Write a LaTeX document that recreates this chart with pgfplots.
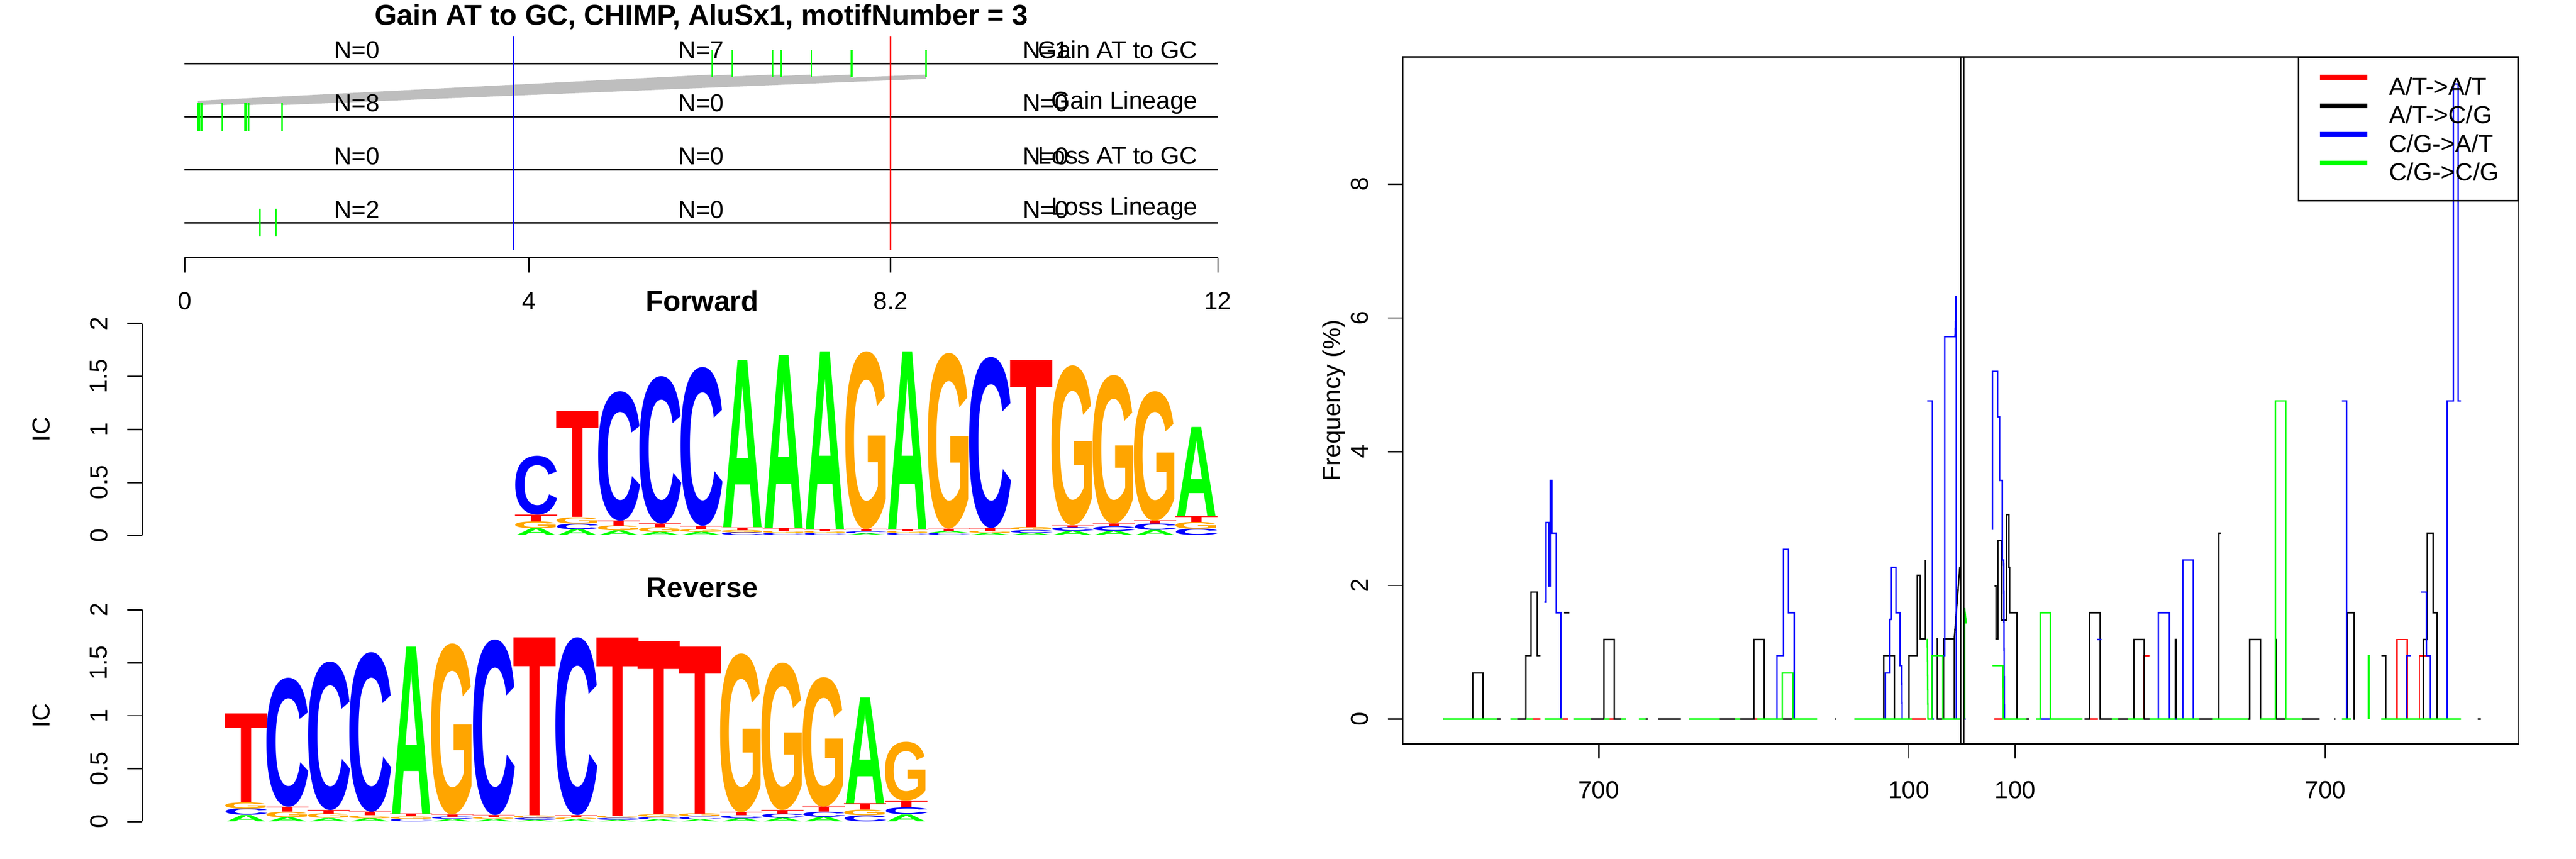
\documentclass[border=0pt]{standalone}
\usepackage{fontspec}
\setmainfont{Liberation Sans}
\newfontfamily\logofont{Liberation Sans}
\usepackage{graphicx}
\usepackage{pgfplots}
\usepackage{pgfplotstable}
\pgfplotsset{compat=1.18}

\definecolor{rred}{rgb}{1,0,0}
\definecolor{rgreen}{rgb}{0,1,0}
\definecolor{rblue}{rgb}{0,0,1}
\definecolor{rorange}{rgb}{1,0.647,0}
\definecolor{rgray}{rgb}{0.745,0.745,0.745}
\colorlet{logoA}{rgreen}
\colorlet{logoC}{rblue}
\colorlet{logoG}{rorange}
\colorlet{logoT}{rred}

\newcommand\fs{\fontsize{10.3pt}{12pt}\selectfont}
\newcommand\ftitle{\fontsize{12pt}{14pt}\selectfont\bfseries}

% one logo column is 17.3pt wide, one bit is 44.4pt high
\newdimen\logounit \logounit=44.4pt
\newdimen\logocol \logocol=17.3pt
\def\logofacA{1.0}\def\logofacC{1.12}\def\logofacG{1.13}\def\logofacT{1.06}
\newcommand\logoglyph[2]{{\color{logo#1}\resizebox*{\csname logofac#1\endcsname\logocol}{#2\logounit}{\logofont\bfseries #1}}}
\def\logosplit#1/#2\relax{\logoglyph{#1}{#2}}

% forward motif: column, bottom of the letter, letter/height
\pgfplotstableread{
x y m
1 0 A/0.065
1 0.065 G/0.065
1 0.13 T/0.065
1 0.195 C/0.555
2 0 A/0.057
2 0.057 C/0.053
2 0.11 G/0.06
2 0.17 T/1.0
3 0 A/0.043
3 0.043 G/0.047
3 0.09 T/0.048
3 0.138 C/1.222
4 0 A/0.031
4 0.031 G/0.043
4 0.074 T/0.035
4 0.109 C/1.391
5 0 A/0.031
5 0.031 G/0.026
5 0.057 T/0.031
5 0.088 C/1.498
6 0 C/0.026
6 0.026 G/0.022
6 0.048 T/0.026
6 0.074 A/1.576
7 0 C/0.02
7 0.02 G/0.02
7 0.04 T/0.026
7 0.066 A/1.634
8 0 C/0.02
8 0.02 G/0.018
8 0.038 T/0.019
8 0.057 A/1.678
9 0 A/0.015
9 0.015 C/0.02
9 0.035 T/0.022
9 0.057 G/1.678
10 0 C/0.02
10 0.02 G/0.018
10 0.038 T/0.019
10 0.057 A/1.678
11 0 C/0.02
11 0.02 A/0.02
11 0.04 T/0.02
11 0.06 G/1.657
12 0 A/0.02
12 0.02 G/0.02
12 0.04 T/0.026
12 0.066 C/1.614
13 0 A/0.022
13 0.022 C/0.026
13 0.048 G/0.026
13 0.074 T/1.576
14 0 A/0.04
14 0.04 C/0.034
14 0.074 T/0.017
14 0.091 G/1.509
15 0 A/0.04
15 0.04 C/0.043
15 0.083 T/0.026
15 0.109 G/1.401
16 0 A/0.048
16 0.048 C/0.06
16 0.108 T/0.03
16 0.138 G/1.222
17 0 C/0.06
17 0.06 G/0.065
17 0.125 T/0.056
17 0.181 A/0.839
}\fwdlogo

% reverse motif
\pgfplotstableread{
x y m
1 0 A/0.06
1 0.06 C/0.062
1 0.122 G/0.059
1 0.181 T/0.839
2 0 A/0.04
2 0.04 G/0.052
2 0.092 T/0.046
2 0.138 C/1.217
3 0 A/0.031
3 0.031 G/0.043
3 0.074 T/0.035
3 0.109 C/1.401
4 0 A/0.031
4 0.031 G/0.026
4 0.057 T/0.034
4 0.091 C/1.506
5 0 C/0.026
5 0.026 G/0.022
5 0.048 T/0.026
5 0.074 A/1.576
6 0 A/0.022
6 0.022 C/0.022
6 0.044 T/0.022
6 0.066 G/1.614
7 0 A/0.022
7 0.022 G/0.017
7 0.039 T/0.021
7 0.06 C/1.657
8 0 A/0.015
8 0.015 C/0.02
8 0.035 G/0.022
8 0.057 T/1.678
9 0 A/0.02
9 0.02 G/0.018
9 0.038 T/0.019
9 0.057 C/1.678
10 0 A/0.015
10 0.015 C/0.018
10 0.033 G/0.02
10 0.053 T/1.682
11 0 A/0.02
11 0.02 C/0.022
11 0.042 G/0.024
11 0.066 T/1.634
12 0 A/0.02
12 0.02 C/0.026
12 0.046 G/0.028
12 0.074 T/1.576
13 0 A/0.031
13 0.031 C/0.026
13 0.057 T/0.031
13 0.088 G/1.498
14 0 A/0.034
14 0.034 C/0.04
14 0.074 T/0.035
14 0.109 G/1.391
15 0 A/0.043
15 0.043 C/0.047
15 0.09 T/0.048
15 0.138 G/1.222
16 0 C/0.057
16 0.057 G/0.053
16 0.11 T/0.06
16 0.17 A/1.0
17 0 A/0.065
17 0.065 C/0.065
17 0.13 T/0.065
17 0.195 G/0.555
}\revlogo

\pgfplotsset{
  logo/.style={
    scale only axis, width=451pt, height=88.8pt,
    ymin=0, ymax=2, clip=false,
    axis x line=none, axis y line*=left,
    axis line style={-, line width=0.6pt},
    ytick={0,0.5,1,1.5,2}, yticklabels={0,0.5,1,1.5,2},
    tick align=outside, major tick length=6.2pt,
    tick style={line width=0.6pt, black},
    yticklabel style={font=\fs, xshift=-12pt, rotate=90, anchor=center},
  },
  letters/.style={
    scatter, only marks, mark=*, mark size=0pt,
    mark options={draw=none, fill=none},
    point meta=explicit symbolic,
    scatter/@pre marker code/.code={\pgftext[bottom]{\expandafter\logosplit\pgfplotspointmeta\relax}},
    scatter/@post marker code/.code={},
  },
}

\begin{document}
\begin{tikzpicture}

% ---- top left: positions of the substitutions ----
\begin{axis}[
  at={(77.4pt,252pt)}, anchor=south west,
  scale only axis, width=433.2pt, height=92.6pt,
  xmin=0, xmax=12, ymin=0.344, ymax=4.503,
  axis x line*=bottom, axis y line=none,
  axis line style={-, line width=0.6pt},
  xtick={0,4,8.2,12}, xticklabels={0,4,8.2,12},
  tick align=outside, major tick length=6.2pt,
  tick style={line width=0.6pt, black},
  xticklabel style={font=\fs, anchor=center, yshift=-12pt},
  clip=false, unbounded coords=jump,
]
\addplot[black, line width=0.6pt] coordinates {
  (0,4) (12,4) (nan,nan) (0,3) (12,3) (nan,nan)
  (0,2) (12,2) (nan,nan) (0,1) (12,1)};
\addplot[rgray, line width=1.8pt] coordinates {
  (6.13,3.75) (0.155,3.257) (nan,nan)
  (6.36,3.75) (0.197,3.257) (nan,nan)
  (6.83,3.75) (0.44,3.257) (nan,nan)
  (6.93,3.75) (0.70,3.257) (nan,nan)
  (7.28,3.75) (0.745,3.257) (nan,nan)
  (7.74,3.75) (1.13,3.257) (nan,nan)
  (8.61,3.75) (1.13,3.257)};
\addplot[rgreen, line width=0.6pt] coordinates {
  (6.13,3.75) (6.13,4.25) (nan,nan) (6.36,3.75) (6.36,4.25) (nan,nan)
  (6.83,3.75) (6.83,4.25) (nan,nan) (6.93,3.75) (6.93,4.25) (nan,nan)
  (7.28,3.75) (7.28,4.25) (nan,nan) (7.74,3.75) (7.74,4.25) (nan,nan)
  (7.75,3.75) (7.75,4.25) (nan,nan) (8.61,3.75) (8.61,4.25) (nan,nan)
  (0.155,2.73) (0.155,3.257) (nan,nan) (0.175,2.73) (0.175,3.257) (nan,nan)
  (0.197,2.73) (0.197,3.257) (nan,nan) (0.44,2.73) (0.44,3.257) (nan,nan)
  (0.70,2.73) (0.70,3.257) (nan,nan) (0.72,2.73) (0.72,3.257) (nan,nan)
  (0.745,2.73) (0.745,3.257) (nan,nan) (1.13,2.73) (1.13,3.257) (nan,nan)
  (0.875,0.74) (0.875,1.27) (nan,nan) (1.06,0.74) (1.06,1.27)};
\addplot[rblue, line width=0.6pt] coordinates {(3.82,0.488) (3.82,4.503)};
\addplot[rred, line width=0.6pt] coordinates {(8.2,0.488) (8.2,4.503)};
\node[font=\ftitle, anchor=base] at (axis cs:6,4.72) {Gain AT to GC, CHIMP, AluSx1, motifNumber = 3};
\node[font=\fs] at (axis cs:2,4.25) {N=0};
\node[font=\fs] at (axis cs:6,4.25) {N=7};
\node[font=\fs] at (axis cs:10,4.25) {N=1};
\node[font=\fs, anchor=east] at (axis cs:11.86,4.26) {Gain AT to GC};
\node[font=\fs] at (axis cs:2,3.25) {N=8};
\node[font=\fs] at (axis cs:6,3.25) {N=0};
\node[font=\fs] at (axis cs:10,3.25) {N=0};
\node[font=\fs, anchor=east] at (axis cs:11.86,3.26) {Gain Lineage};
\node[font=\fs] at (axis cs:2,2.25) {N=0};
\node[font=\fs] at (axis cs:6,2.25) {N=0};
\node[font=\fs] at (axis cs:10,2.25) {N=0};
\node[font=\fs, anchor=east] at (axis cs:11.86,2.26) {Loss AT to GC};
\node[font=\fs] at (axis cs:2,1.25) {N=2};
\node[font=\fs] at (axis cs:6,1.25) {N=0};
\node[font=\fs] at (axis cs:10,1.25) {N=0};
\node[font=\fs, anchor=east] at (axis cs:11.86,1.26) {Loss Lineage};
\end{axis}

% ---- forward logo ----
\begin{axis}[logo, at={(59.6pt,135.6pt)}, anchor=south west,
  xmin=-8.548, xmax=17.52]
\addplot[letters] table[x=x, y=y, meta=m] {\fwdlogo};
\node[font=\ftitle, anchor=base] at (axis description cs:0.5206,1.0586) {Forward};
\node[font=\fs, rotate=90] at (axis description cs:-0.094,0.5) {IC};
\end{axis}

% ---- reverse logo ----
\begin{axis}[logo, at={(59.6pt,15.6pt)}, anchor=south west,
  xmin=-1.52, xmax=24.55]
\addplot[letters] table[x=x, y=y, meta=m] {\revlogo};
\node[font=\ftitle, anchor=base] at (axis description cs:0.5206,1.0586) {Reverse};
\node[font=\fs, rotate=90] at (axis description cs:-0.094,0.5) {IC};
\end{axis}

% ---- right: substitution frequencies around the motif ----
\begin{axis}[
  at={(588pt,48.2pt)}, anchor=south west,
  scale only axis, width=468pt, height=288pt,
  xmin=-1082.8, xmax=1077.3, ymin=-0.371, ymax=9.907,
  axis line style={line width=0.6pt},
  xtick={-703,-103,103,703}, xticklabels={700,100,100,700},
  ytick={0,2,4,6,8}, yticklabels={0,2,4,6,8},
  xtick pos=left, ytick pos=left,
  tick align=outside, major tick length=6.2pt,
  tick style={line width=0.6pt, black},
  xticklabel style={font=\fs, anchor=center, yshift=-13.2pt},
  yticklabel style={font=\fs, xshift=-11.8pt, rotate=90, anchor=center},
  ylabel={Frequency (\%)},
  every axis y label/.style={at={(axis description cs:-0.0615,0.5)}, anchor=center, rotate=90, font=\fs},
  unbounded coords=jump, clip=false,
  legend style={at={(1,1)}, anchor=north east, draw=black, line width=0.6pt,
    fill=none, font=\fs, inner xsep=8pt, inner ysep=6pt,
    row sep=0pt, column sep=8.2pt,
    nodes={inner sep=0pt, text height=9.7pt, text depth=2.3pt}},
  legend cell align=left,
  legend image code/.code={\path (0pt,0pt); \draw[line width=2pt] (0pt,3.7pt) -- (19.8pt,3.7pt);},
]
\addplot[rred, line width=0.6pt] coordinates {
  (-830,0) (-815.5,0) (nan,nan) (-773,0) (-762,0) (nan,nan)
  (-682,0) (-674,0) (nan,nan) (-406,0) (-396.4,0) (nan,nan)
  (-97,0) (-70.5,0) (nan,nan) (62,0) (80,0) (nan,nan)
  (247,0) (263,0) (nan,nan) (352.3,0) (352.3,0.95) (363,0.95) (nan,nan)
  (841.3,0) (841.3,1.19) (861.9,1.19) (861.9,0) (nan,nan)
  (884.9,0) (884.9,0.95) (906.4,0.95) (906.4,0)};
\addlegendentry{A/T->A/T}
\addplot[black, line width=0.6pt] coordinates {
  (-1004,0) (-947,0) (-947,0.69) (-927,0.69) (-927,0) (-893,0) (nan,nan)
  (-861,0) (-844,0) (-844,0.95) (-834,0.95) (-834,1.90) (-822,1.90) (-822,0.95) (-816,0.95) (nan,nan)
  (-770,1.59) (-760,1.59) (nan,nan)
  (-752,0) (-693,0) (-693,1.19) (-673,1.19) (-673,0) (-651,0) (nan,nan)
  (-625,0) (-608,0) (nan,nan) (-588,0) (-544,0) (nan,nan)
  (-528,0) (-403,0) (-403,1.19) (-383,1.19) (-383,0) (-281,0) (nan,nan)
  (-246.5,0) (-244.5,0) (nan,nan)
  (-208,0) (-151.7,0) (-151.7,0.95) (-131,0.95) (-131,0) (-102.8,0) (-102.8,0.95)
  (-86.5,0.95) (-86.5,2.15) (-81.2,2.15) (-81.2,1.2) (-71.1,1.2) (-71.1,2.38) (nan,nan)
  (-49.5,1.2) (-48,1.2) (-48,0) (-36,0) (-36,1.2) (-15.1,1.2) (-4.3,2.28) (nan,nan)
  (-15.1,1.2) (-15.1,0) (nan,nan)
  (62.8,1.99) (65.8,1.99) (65.8,1.2) (69.5,1.2) (69.5,2.67) (77,2.67) (77,1.48)
  (85.8,1.48) (85.8,3.06) (90.6,3.06) (90.6,2.27) (92.2,2.27) (92.2,1.59) (106.2,1.59)
  (106.2,0) (129.3,0) (nan,nan)
  (237,0) (246.7,0) (246.7,1.59) (267.3,1.59) (267.3,0) (332.4,0) (332.4,1.19)
  (352.3,1.19) (352.3,0) (412.7,0) (412.7,1.19) (415,1.19) (415,0) (430,0) (nan,nan)
  (459,0) (496.9,0) (496.9,2.78) (500.8,2.78) (nan,nan)
  (547,0) (556.6,0) (556.6,1.19) (577.3,1.19) (577.3,0) (606.4,0) (606.4,1.19)
  (607.5,1.19) (607.5,0) (692,0) (nan,nan)
  (720.5,0) (722.5,0) (nan,nan)
  (744,0) (745.6,0) (745.6,1.59) (758.7,1.59) (758.7,0) (760,0) (nan,nan)
  (811.5,0.95) (819.9,0.95) (819.9,0) (892.6,0) (892.6,1.19) (900.2,1.19) (900.2,2.78)
  (911.7,2.78) (911.7,1.59) (919.4,1.59) (919.4,0) (930,0) (nan,nan)
  (998,0) (1004,0)};
\addlegendentry{A/T->C/G}
\addplot[rblue, line width=0.6pt] coordinates {
  (-808.2,1.75) (-805,1.75) (-805,2.94) (-799.4,2.94) (-799.4,1.99) (-797,1.99)
  (-797,3.57) (-793.8,3.57) (-793.8,2.78) (-785.1,2.78) (-785.1,1.59) (-776.4,1.59)
  (-776.4,0) (-774,0) (nan,nan)
  (-358.3,0) (-358.3,0.95) (-345.6,0.95) (-345.6,2.54) (-336.1,2.54) (-336.1,1.59)
  (-324.9,1.59) (-324.9,0) (-320,0) (nan,nan)
  (-148.5,0) (-148.5,0.69) (-139.8,0.69) (-139.8,1.49) (-136.6,1.49) (-136.6,2.27)
  (-127.9,2.27) (-127.9,1.59) (-120.3,1.59) (-120.3,0.80) (-116.6,0.80) (-115.9,0) (nan,nan)
  (-67.4,4.76) (-57.5,4.76) (-57.5,0) (-54.5,0) (nan,nan)
  (-36.3,0.95) (-33.5,0.95) (-33.5,5.72) (-13.5,5.72) (-12,6.32) (-11.4,6.32)
  (-11.4,0) (-9,0) (nan,nan)
  (5,0) (7,0) (nan,nan)
  (58.8,2.83) (58.8,5.20) (68.6,5.20) (68.6,4.52) (72.6,4.52) (72.6,3.57) (77.8,3.57)
  (77.8,2.38) (80.5,2.38) (81.9,0) (nan,nan)
  (145.2,0) (171.6,0) (nan,nan)
  (262,1.19) (269.6,1.19) (nan,nan)
  (379.8,0) (379.8,1.59) (401.3,1.59) (401.3,0) (427.3,0) (427.3,2.38) (447.2,2.38)
  (447.2,0) (nan,nan)
  (735,4.76) (744.1,4.76) (744.1,0) (745.6,0) (nan,nan)
  (860.4,0) (860.4,0.95) (868,0.95) (nan,nan)
  (888,1.9) (898.7,1.9) (898.7,0.95) (906.4,0.95) (906.4,0) (938.5,0) (938.5,4.76)
  (950.7,4.76) (950.7,9.5) (959.9,9.5) (959.9,4.76) (965.3,4.76)};
\addlegendentry{C/G->A/T}
\addplot[rgreen, line width=0.6pt] coordinates {
  (-1004,0) (-900,0) (nan,nan) (-874,0) (-861,0) (nan,nan)
  (-844,0) (-830,0) (nan,nan) (-808,0) (-773,0) (nan,nan)
  (-751.4,0) (-718.5,0) (nan,nan) (-693,0) (-682,0) (nan,nan)
  (-660,0) (-650.7,0) (nan,nan) (-625.2,0) (-612,0) (nan,nan)
  (-528.2,0) (-469,0) (nan,nan) (-439,0) (-429.3,0) (nan,nan)
  (-396.4,0) (-348,0) (-348,0.69) (-327.3,0.69) (-327.3,0) (-280.5,0) (nan,nan)
  (-208,0) (-97,0) (nan,nan)
  (-67.4,1.2) (-66,0) (-58.8,0) (-58.8,0.95) (-37.2,0.95) (-37.2,0) (-4.3,0) (nan,nan)
  (4.9,0) (4.9,1.66) (8,1.43) (nan,nan)
  (58.8,0.80) (78.8,0.80) (80,0) (124.6,0) (nan,nan)
  (143,0) (151.1,0) (151.1,1.59) (170.8,1.59) (170.8,0) (233,0) (nan,nan)
  (290,0) (302,0) (nan,nan) (321,0) (351,0) (nan,nan)
  (363,0) (413,0) (nan,nan) (415,0) (459,0) (nan,nan)
  (485,0) (554,0) (nan,nan)
  (577.3,0) (606.4,0) (606.4,4.76) (626.3,4.76) (626.3,0) (658,0) (nan,nan)
  (735,0) (753,0) (nan,nan)
  (786.2,0) (786.2,0.95) (787.5,0.95) (787.5,0) (nan,nan)
  (811,0) (965.3,0)};
\addlegendentry{C/G->C/G}
\addplot[black, line width=0.6pt, forget plot] coordinates {(-2.5,-0.371) (-2.5,9.907)};
\addplot[black, line width=0.6pt, forget plot] coordinates {(3,-0.371) (3,9.907)};
\end{axis}

\pgfresetboundingbox
\useasboundingbox (0,0) rectangle (1080pt,360pt);
\end{tikzpicture}
\end{document}
